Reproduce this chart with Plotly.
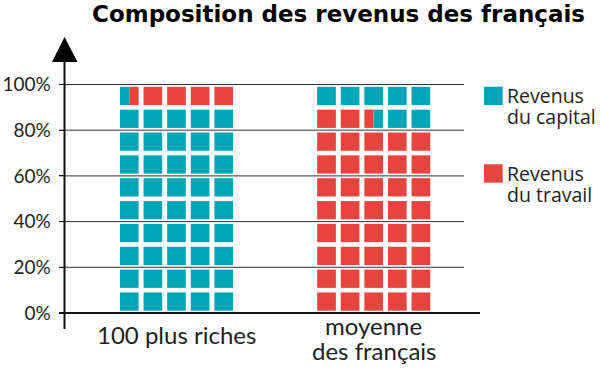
import plotly.graph_objects as go

# ---------------- data ----------------
title_text = "Composition des revenus des français"
categories = ["100 plus riches", "moyenne\ndes français"]
series_names = ["Revenus\ndu capital", "Revenus\ndu travail"]
capital = [91, 15]          # % des revenus du capital
travail = [9, 85]           # % des revenus du travail
y_ticks = [0, 20, 40, 60, 80, 100]
y_tick_labels = ["0%", "20%", "40%", "60%", "80%", "100%"]

# ---------------- style / layout constants ----------------
COLORS = ["#00A6B6", "#E8443F"]
TEXT = "#231F20"
FONT = "Lato"
LEG_FONT = "Open Sans"
TITLE_FONT = "DejaVu Sans"
W, H = 600, 369
Y0_PX, Y100_PX = 313.0, 84.5          # pixel rows of 0% and 100%
G0_PX, G_STEP_PX = 176.5, 197.2       # centre of first group, spacing of groups
COLS, ROWS = 5, 10
PITCH_PX = 23.6                       # column pitch inside a group
SQ_W_PX = 18.7                        # square width
SQ_PAD = 1.0                          # vertical inset of a square, in % units
AXIS_X_PX = 64.5

ppp = (Y0_PX - Y100_PX) / 100.0       # pixels per percent
y_range = [-(H - Y0_PX) / ppp, Y0_PX / ppp]
x_range = [-G0_PX / G_STEP_PX, (W - G0_PX) / G_STEP_PX]
pitch = PITCH_PX / G_STEP_PX
sq_w = SQ_W_PX / G_STEP_PX
row_h = 100.0 / ROWS
cells_per_pct = COLS * ROWS / 100.0


def px(x):
    return x / W


def py(y):
    return 1 - y / H


fig = go.Figure()
fig.add_trace(go.Scatter(x=[], y=[], showlegend=False))

shapes = []
series = [capital, travail]

# waffle squares
for g in range(len(categories)):
    vals = [s[g] for s in series]
    order = sorted(range(len(vals)), key=lambda i: -vals[i])
    segs = []
    start = 0.0
    for s in order:
        end = start + vals[s] * cells_per_pct
        segs.append((s, start, end))
        start = end
    for k in range(COLS * ROWS):
        row, col = k // COLS, k % COLS
        left = g + (col - (COLS - 1) / 2) * pitch - sq_w / 2
        for s, a, b in segs:
            lo, hi = max(a, k), min(b, k + 1)
            if hi - lo <= 1e-9:
                continue
            shapes.append(dict(
                type="rect", xref="x", yref="y",
                x0=left + (lo - k) * sq_w, x1=left + (hi - k) * sq_w,
                y0=row * row_h + SQ_PAD, y1=(row + 1) * row_h - SQ_PAD,
                fillcolor=COLORS[s], line=dict(width=0), layer="above"))

# grid lines
for t in y_ticks[1:]:
    shapes.append(dict(type="line", xref="paper", yref="y",
                       x0=px(59), x1=px(464), y0=t, y1=t,
                       line=dict(color="#333333", width=1), layer="below"))
# base line
shapes.append(dict(type="line", xref="paper", yref="y",
                   x0=px(59), x1=px(480), y0=0, y1=0,
                   line=dict(color="#111111", width=2)))
# vertical axis with arrow
shapes.append(dict(type="line", xref="paper", yref="paper",
                   x0=px(AXIS_X_PX), x1=px(AXIS_X_PX), y0=py(60), y1=py(329),
                   line=dict(color="#111111", width=2)))
shapes.append(dict(type="path", xref="paper", yref="paper",
                   path=f"M {px(AXIS_X_PX)},{py(37)} L {px(52)},{py(62)} L {px(77.5)},{py(62)} Z",
                   fillcolor="#000000", line=dict(width=0)))

annotations = []
# title
annotations.append(dict(text=title_text, xref="paper", yref="paper",
                        x=px(339), y=py(14.4), xanchor="center", yanchor="middle",
                        showarrow=False,
                        font=dict(family=TITLE_FONT, size=23, weight=700, color="#000000")))

# category labels
cat_line_px = 25
for g, c in enumerate(categories):
    lines = c.split("\n")
    n = len(lines)
    first = 334.6 - 9 * (n - 1)
    for j, ln in enumerate(lines):
        annotations.append(dict(text=ln, xref="x", yref="paper", x=g,
                                y=py(first + j * cat_line_px),
                                xanchor="center", yanchor="middle", showarrow=False,
                                font=dict(family=FONT, size=24, color=TEXT)))

# legend
leg_top = [86.7, 164.3]
leg_line_off = [9.1, 29.8]
for i, name in enumerate(series_names):
    top = leg_top[i]
    shapes.append(dict(type="rect", xref="paper", yref="paper",
                       x0=px(484), x1=px(484 + SQ_W_PX), y0=py(top), y1=py(top + 18.4),
                       fillcolor=COLORS[i], line=dict(width=0)))
    for j, ln in enumerate(name.split("\n")):
        annotations.append(dict(text=ln, xref="paper", yref="paper",
                                x=px(505), y=py(top + leg_line_off[j]),
                                xanchor="left", yanchor="middle", showarrow=False,
                                font=dict(family=LEG_FONT, size=19.5, color=TEXT)))

fig.update_layout(
    width=W, height=H,
    margin=dict(l=0, r=0, t=0, b=0),
    paper_bgcolor="white", plot_bgcolor="white",
    showlegend=False,
    xaxis=dict(range=x_range, visible=False, fixedrange=True),
    yaxis=dict(range=y_range, anchor="free", position=px(AXIS_X_PX),
               showgrid=False, zeroline=False, showline=False,
               ticks="outside", ticklen=6, tickwidth=1, tickcolor="#111111",
               tickvals=y_ticks, ticktext=y_tick_labels,
               ticklabelstandoff=4,
               tickfont=dict(family=FONT, size=19, color=TEXT), fixedrange=True),
    shapes=shapes,
    annotations=annotations,
)

fig.write_html("out.html", config={"displayModeBar": False},
               post_script="document.body.style.margin='0px';")
